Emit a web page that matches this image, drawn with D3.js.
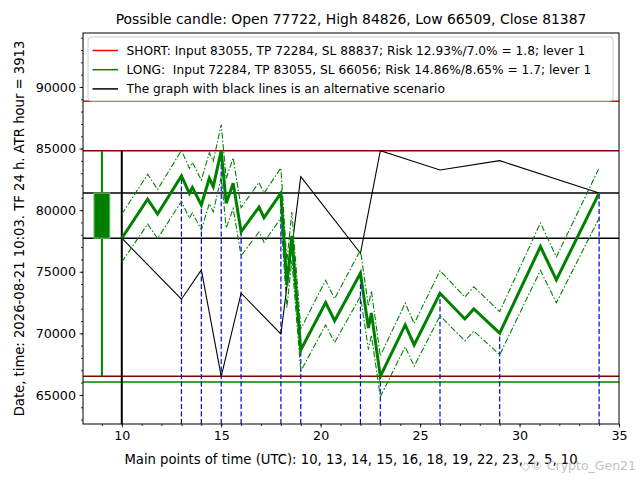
<!DOCTYPE html>
<head>
    <meta charset="utf-8">
    <script src="https://cdnjs.cloudflare.com/ajax/libs/d3/7.9.0/d3.js"></script>
    <style>
        body { margin: 0; background: #fff; }
        text { font-family: "DejaVu Sans", sans-serif; }
    </style>
</head>
<body>
    <div id="chart"></div>
</body>
<script>

// candle
const candleX = 9
const candleOpen = 77722, candleHigh = 84826, candleLow = 66509, candleClose = 81387

// main green path (zigzag between main points)
const pathX = [10, 11.3, 11.8, 13, 13.4, 13.55, 14, 14.4, 14.6, 15, 15.25, 15.6, 16, 16.9, 17.15, 18,
    18.3, 18.55, 19, 20.25, 20.7, 22, 22.4, 22.55, 23, 24.25, 24.7, 26, 27.25, 27.7, 29, 31.05, 31.85, 34]
const pathMain = [77722, 80890, 79690, 82776, 81370, 81830, 80420, 82590, 81910, 84826, 80560, 82180, 78255, 80240, 79390, 81387,
    73930, 77906, 68650, 72490, 71030, 74880, 70440, 71655, 66509, 70680, 69060, 73255, 71170, 71980, 70010, 77040, 74340, 81387]
const pathUpper = [79670, 82910, 81680, 84850, 83400, 83880, 82430, 84660, 83960, 86950, 82570, 84240, 80210, 82250, 81380, 83420,
    75780, 79850, 70370, 74300, 72810, 76750, 72200, 73450, 68170, 72450, 70790, 75090, 72950, 73780, 71760, 78970, 76200, 83420]
const pathLower = [75780, 78870, 77700, 80710, 79340, 79780, 78410, 80530, 79860, 82700, 78550, 80130, 76300, 78230, 77400, 79350,
    72080, 75960, 66930, 70680, 69250, 73010, 68680, 69860, 64850, 68910, 67330, 71420, 69390, 70180, 68260, 75110, 72480, 79350]

// main points (blue dashed verticals)
const mainX = [13, 14, 15, 16, 18, 19, 22, 23, 26, 29, 34]
const mainY = [82776, 80420, 84826, 78255, 81387, 68650, 74880, 66509, 73255, 70010, 81387]

// alternative scenario (black)
const altX = [10, 13, 14, 15, 16, 18, 19, 22, 23, 26, 29, 34]
const altY = [77722, 72770, 75150, 66509, 73255, 69950, 82720, 76500, 84826, 83260, 84020, 81387]

// horizontal levels
const levelValues = [88837, 84826, 81387, 77722, 66509, 66056]
const levelColors = ["#ff0000", "#8b0000", "#000000", "#000000", "#8b0000", "#008000"]

const legendLabels = [
    "SHORT: Input 83055, TP 72284, SL 88837; Risk 12.93%/7.0% = 1.8; lever 1",
    "LONG:  Input 72284, TP 83055, SL 66056; Risk 14.86%/8.65% = 1.7; lever 1",
    "The graph with black lines is an alternative scenario"
]
const legendColors = ["#ff0000", "#008000", "#000000"]

const xTicks = [10, 15, 20, 25, 30, 35]
const yTicks = [65000, 70000, 75000, 80000, 85000, 90000]

const titleText = "Possible candle: Open 77722, High 84826, Low 66509, Close 81387"
const xLabelText = "Main points of time (UTC): 10, 13, 14, 15, 16, 18, 19, 22, 23, 2, 5, 10"
const yLabelText = "Date, time: 2026-08-21 10:03. TF 24 h. ATR hour = 3913"

// dimensions
const margin = {top: 33, right: 21, bottom: 56, left: 83}
const width = 640 - margin.left - margin.right
const height = 480 - margin.top - margin.bottom

const root = d3.select("#chart")
    .append("svg")
    .attr("width", 640)
    .attr("height", 480)

const svg = root.append("g")
    .attr("transform", `translate(${margin.left},${margin.top})`)

const x = d3.scaleLinear().domain([8.05, 35]).range([0, width])
const y = d3.scaleLinear().domain([62640, 94380]).range([height, 0])

svg.append("defs").append("clipPath").attr("id", "clip")
    .append("rect").attr("width", width).attr("height", height)

const plot = svg.append("g").attr("clip-path", "url(#clip)")

// levels
plot.selectAll(".level")
    .data(levelValues)
    .join("line")
    .attr("x1", 0).attr("x2", width)
    .attr("y1", d => y(d)).attr("y2", d => y(d))
    .attr("stroke", (d, i) => levelColors[i])
    .attr("stroke-width", 1.5)

// candle
plot.append("line")
    .attr("x1", x(candleX)).attr("x2", x(candleX))
    .attr("y1", y(candleHigh)).attr("y2", y(candleLow))
    .attr("stroke", "green").attr("stroke-width", 2)

plot.append("rect")
    .attr("x", x(candleX - 0.4))
    .attr("width", x(candleX + 0.4) - x(candleX - 0.4))
    .attr("y", y(candleClose))
    .attr("height", y(candleOpen) - y(candleClose))
    .attr("fill", "green")
    .attr("stroke", "#7fbf7f").attr("stroke-width", 1)

// start marker
plot.append("line")
    .attr("x1", x(10)).attr("x2", x(10))
    .attr("y1", y(candleHigh)).attr("y2", height)
    .attr("stroke", "black").attr("stroke-width", 2)

// blue dashed main points
plot.selectAll(".mainpt")
    .data(mainX)
    .join("line")
    .attr("x1", d => x(d)).attr("x2", d => x(d))
    .attr("y1", height).attr("y2", (d, i) => y(mainY[i]))
    .attr("stroke", "blue").attr("stroke-width", 1.2)
    .attr("stroke-dasharray", "5,2.5")

// alternative scenario
const altLine = d3.line().x((d, i) => x(altX[i])).y(d => y(d))
plot.append("path")
    .attr("d", altLine(altY))
    .attr("fill", "none").attr("stroke", "black").attr("stroke-width", 1.1)

// bands and main path
const pLine = d3.line().x((d, i) => x(pathX[i])).y(d => y(d))

plot.selectAll(".band")
    .data([pathUpper, pathLower])
    .join("path")
    .attr("d", d => pLine(d))
    .attr("fill", "none").attr("stroke", "green").attr("stroke-width", 1.1)
    .attr("stroke-dasharray", "6,2,1.5,2")

plot.append("path")
    .attr("d", pLine(pathMain))
    .attr("fill", "none").attr("stroke", "green").attr("stroke-width", 3)
    .attr("stroke-linejoin", "miter")

// axes
const xAxis = svg.append("g")
    .attr("transform", `translate(0,${height})`)
    .call(d3.axisBottom(x).tickValues(xTicks).tickSize(3.5).tickPadding(3.5))
const xMinor = svg.append("g")
    .attr("transform", `translate(0,${height})`)
    .call(d3.axisBottom(x).tickValues(d3.range(9, 36)).tickSize(2).tickFormat(""))

const yAxis = svg.append("g")
    .call(d3.axisLeft(y).tickValues(yTicks).tickSize(3.5).tickPadding(3.5).tickFormat(d3.format("d")))
const yMinor = svg.append("g")
    .call(d3.axisLeft(y).tickValues(d3.range(63000, 95000, 1000)).tickSize(2).tickFormat(""))

for (const g of [xAxis, xMinor, yAxis, yMinor]) {
    g.select(".domain").remove()
    g.selectAll("text").attr("font-size", 12.7).attr("fill", "#000")
        .attr("font-family", "DejaVu Sans, sans-serif")
    g.selectAll("line").attr("stroke", "#000").attr("stroke-width", 0.8)
}

svg.append("rect")
    .attr("width", width).attr("height", height)
    .attr("fill", "none").attr("stroke", "#000").attr("stroke-width", 1)

// legend
const legend = svg.append("g").attr("transform", "translate(5,4)")
legend.append("rect")
    .attr("width", 525).attr("height", 64)
    .attr("rx", 3)
    .attr("fill", "white").attr("fill-opacity", 0.8)
    .attr("stroke", "#cccccc")

legendLabels.forEach((label, i) => {
    const cy = 13.5 + i * 19.2
    legend.append("line")
        .attr("x1", 4.5).attr("x2", 30)
        .attr("y1", cy).attr("y2", cy)
        .attr("stroke", legendColors[i]).attr("stroke-width", 1.5)
    legend.append("text")
        .attr("x", 38.5).attr("y", cy + 4.4)
        .attr("font-size", 12.2)
        .style("white-space", "pre")
        .text(label)
})

// titles
root.append("text")
    .attr("x", margin.left + width / 2).attr("y", 24)
    .attr("text-anchor", "middle").attr("font-size", 13.9)
    .text(titleText)

root.append("text")
    .attr("x", margin.left + width / 2).attr("y", 464)
    .attr("text-anchor", "middle").attr("font-size", 13.2)
    .text(xLabelText)

root.append("text")
    .attr("transform", `translate(24,${margin.top + height / 2}) rotate(-90)`)
    .attr("text-anchor", "middle").attr("font-size", 13.2)
    .text(yLabelText)

root.append("text")
    .attr("x", 636).attr("y", 470)
    .attr("text-anchor", "end").attr("font-size", 12.5)
    .attr("fill", "#b0b0b0").attr("fill-opacity", 0.8)
    .text("◇© Crypto_Gen21")

</script>
